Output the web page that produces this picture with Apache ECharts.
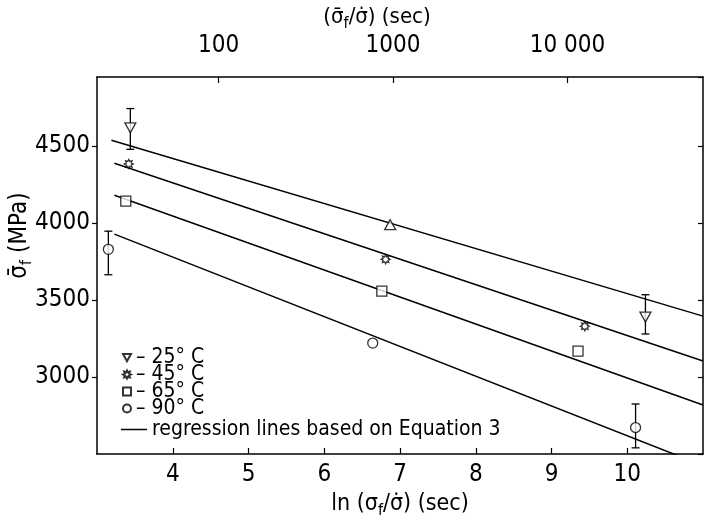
<!DOCTYPE html>
<html>
<head>
<meta charset="utf-8">
<script src="https://cdn.jsdelivr.net/npm/echarts@6/dist/echarts.min.js"></script>
<style>
  html, body { margin: 0; padding: 0; background: #fff; }
  #main { width: 704px; height: 519px; }
</style>
</head>
<body>
<div id="main"></div>
<script type="text/javascript">
    // 数据: [ln(sigma_f/sigma_dot), sigma_f (MPa)]
    var t25 = [[3.44, 4620], [6.87, 3990], [10.24, 3390]];
    var t45 = [[3.42, 4385], [6.81, 3765], [9.44, 3330]];
    var t65 = [[3.38, 4143], [6.76, 3558], [9.35, 3169]];
    var t90 = [[3.15, 3830], [6.64, 3221], [10.11, 2672]];
    // error bars: [x, low, high]
    var errBars = [[3.44, 4480, 4745], [10.24, 3280, 3535], [3.15, 3665, 3948], [10.11, 2540, 2825]];
    // regression lines (end points)
    var reg25 = [[3.19, 4539], [11, 3396]];
    var reg45 = [[3.23, 4390], [11, 3104]];
    var reg65 = [[3.23, 4182], [11, 2818]];
    var reg90 = [[3.23, 3929], [11, 2425]];
    var legendNames = ['– 25° C', '– 45° C', '– 65° C', '– 90° C'];
    var regName = 'regression lines based on Equation 3';
    var topTicks = [100, 1000, 10000];

    var font = '"DejaVu Sans Condensed", "Liberation Sans Narrow", "DejaVu Sans", sans-serif';
    var starPath = 'path://M0,-10L2.3,-5.5L7.1,-7.1L5.5,-2.3L10,0L5.5,2.3L7.1,7.1L2.3,5.5L0,10L-2.3,5.5L-7.1,7.1L-5.5,2.3L-10,0L-5.5,-2.3L-7.1,-7.1L-2.3,-5.5Z';
    var downTri = 'path://M0,0L10,0L5,9Z';
    var subRich = { f: { fontSize: 16, fontFamily: font, color: '#000', verticalAlign: 'bottom', padding: [14, 0, 0, 0] } };

    var myChart = echarts.init(document.getElementById('main'));

    function pointStyle() {
        return { color: '#fff', borderColor: '#000', borderWidth: 1.3 };
    }
    function regLine(d, name) {
        return { name: name, type: 'line', data: d, symbol: 'none', clip: true,
                 lineStyle: { color: '#000', width: 1.5 }, itemStyle: { color: '#000' }, z: 2 };
    }

    var data25 = [];
    for (var i = 0; i < t25.length; i++) {
        // the middle point is drawn as an up triangle
        data25.push({ value: t25[i], symbolRotate: i === 1 ? 0 : 180 });
    }

    var option = {
        backgroundColor: '#fff',
        textStyle: { fontFamily: font, color: '#000' },
        animation: false,
        grid: { left: 97, right: 1, top: 77, bottom: 65, outerBoundsMode: 'none', containLabel: false },
        legend: [
            { orient: 'vertical', left: 117, top: 342, itemWidth: 8, itemHeight: 8, itemGap: -4,
              data: [{ name: legendNames[0], icon: downTri }, legendNames[1], legendNames[2], legendNames[3]],
              selectedMode: false,
              textStyle: { fontFamily: font, fontSize: 21, color: '#000' } },
            { left: 116, top: 414, itemWidth: 26, itemHeight: 1.5, selectedMode: false,
              data: [{ name: regName, icon: 'rect' }],
              textStyle: { fontFamily: font, fontSize: 21, color: '#000' } }
        ],
        xAxis: [
            { type: 'value', position: 'bottom', min: 3, max: 11, interval: 1,
              name: 'ln (σ{f|f}/σ̇) (sec)', nameLocation: 'middle', nameGap: 35, nameMoveOverlap: false,
              nameTextStyle: { fontFamily: font, fontSize: 23, color: '#000', rich: subRich },
              axisLine: { onZero: false, lineStyle: { color: '#000', width: 1.5 } },
              axisTick: { inside: true, length: 6, lineStyle: { color: '#000', width: 1.2 } },
              axisLabel: { showMinLabel: false, showMaxLabel: false, fontSize: 24, color: '#000', margin: 9, fontFamily: font },
              splitLine: { show: false } },
            { type: 'log', position: 'top', logBase: 10, min: Math.exp(3), max: Math.exp(11),
              name: '(σ̄{f|f}/σ̇) (sec)', nameLocation: 'middle', nameGap: 45, nameMoveOverlap: false,
              nameTextStyle: { fontFamily: font, fontSize: 22, color: '#000', rich: subRich, padding: [0, 46, 0, 0] },
              axisLine: { onZero: false, lineStyle: { color: '#000', width: 1.5 } },
              axisTick: { inside: true, length: 6, lineStyle: { color: '#000', width: 1.2 } },
              axisLabel: { showMinLabel: false, showMaxLabel: false, fontSize: 24, color: '#000', margin: 19, fontFamily: font,
                  formatter: function (v) {
                      var r = Math.round(v);
                      if (topTicks.indexOf(r) < 0) return '';
                      return r === 10000 ? '10 000' : String(r);
                  } },
              splitLine: { show: false } }
        ],
        yAxis: [
            { type: 'value', position: 'left', min: 2500, max: 4950, interval: 500,
              name: 'σ̄{f|f} (MPa)', nameLocation: 'middle', nameGap: 62, nameMoveOverlap: false,
              nameTextStyle: { fontFamily: font, fontSize: 24, color: '#000', rich: subRich, padding: [0, 0, 0, 60] },
              axisLine: { onZero: false, lineStyle: { color: '#000', width: 1.5 } },
              axisTick: { inside: false, length: 5, lineStyle: { color: '#000', width: 1.2 } },
              axisLabel: { showMinLabel: false, showMaxLabel: false, fontSize: 24, color: '#000', margin: 7, fontFamily: font,
                  formatter: function (v) { return String(v); } },
              splitLine: { show: false } },
            { type: 'value', position: 'right', min: 2500, max: 4950, interval: 500,
              axisLine: { show: true, onZero: false, lineStyle: { color: '#000', width: 1.5 } },
              axisTick: { inside: true, length: 5, lineStyle: { color: '#000', width: 1.2 } },
              axisLabel: { show: false }, splitLine: { show: false } }
        ],
        series: [
            regLine(reg25, regName),
            regLine(reg45, regName),
            regLine(reg65, regName),
            regLine(reg90, regName),
            { type: 'custom', data: errBars, z: 3,
              encode: { x: 0, y: [1, 2] },
              renderItem: function (params, api) {
                  var x = api.value(0);
                  var lo = api.coord([x, api.value(1)]);
                  var hi = api.coord([x, api.value(2)]);
                  var w = 4;
                  var st = { stroke: '#000', lineWidth: 1.3 };
                  return { type: 'group', children: [
                      { type: 'line', shape: { x1: lo[0], y1: lo[1], x2: hi[0], y2: hi[1] }, style: st },
                      { type: 'line', shape: { x1: lo[0] - w, y1: lo[1], x2: lo[0] + w, y2: lo[1] }, style: st },
                      { type: 'line', shape: { x1: hi[0] - w, y1: hi[1], x2: hi[0] + w, y2: hi[1] }, style: st }
                  ] };
              } },
            { name: legendNames[0], type: 'scatter', data: data25, symbol: 'triangle', symbolSize: [11, 10],
              symbolRotate: 180, itemStyle: pointStyle(), z: 5 },
            { name: legendNames[1], type: 'scatter', data: t45, symbol: starPath, symbolSize: 9,
              itemStyle: pointStyle(), z: 5 },
            { name: legendNames[2], type: 'scatter', data: t65, symbol: 'rect', symbolSize: 10,
              itemStyle: pointStyle(), z: 5 },
            { name: legendNames[3], type: 'scatter', data: t90, symbol: 'circle', symbolSize: 10,
              itemStyle: pointStyle(), z: 5 }
        ]
    };
    myChart.setOption(option);
</script>
</body>
</html>
